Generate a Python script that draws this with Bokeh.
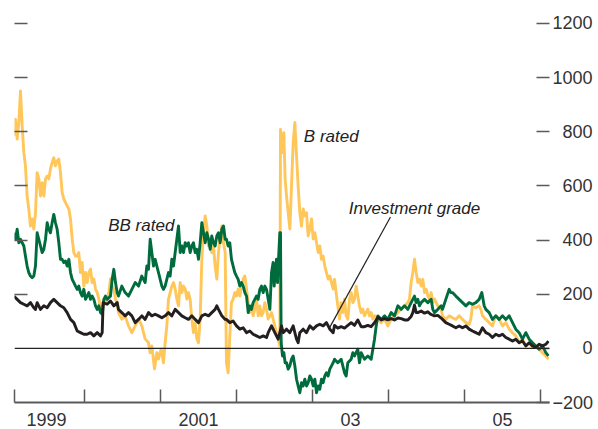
from bokeh.plotting import figure
from bokeh.models import LinearAxis, FixedTicker, Span, Label, Range1d
from bokeh.embed import file_html
from bokeh.resources import INLINE

FONT = "Liberation Sans"

# ---- data: (decimal year, basis points) ----
b_rated = [
    (1999.070, 785), (1999.092, 846), (1999.114, 773), (1999.136, 834), (1999.158, 951), (1999.180, 821),
    (1999.202, 723), (1999.223, 674), (1999.245, 563), (1999.267, 515), (1999.289, 452), (1999.311, 478),
    (1999.333, 441), (1999.355, 500), (1999.377, 649), (1999.399, 626), (1999.421, 563), (1999.443, 612),
    (1999.465, 563), (1999.487, 626), (1999.509, 637), (1999.530, 626), (1999.552, 663), (1999.574, 686),
    (1999.596, 704), (1999.618, 674), (1999.640, 692), (1999.662, 699), (1999.684, 649), (1999.706, 575),
    (1999.728, 552), (1999.750, 538), (1999.772, 526), (1999.794, 515), (1999.816, 478), (1999.838, 404),
    (1999.860, 354), (1999.882, 341), (1999.904, 341), (1999.925, 354), (1999.947, 280), (1999.969, 317),
    (1999.991, 230), (2000.013, 280), (2000.035, 243), (2000.057, 280), (2000.079, 293), (2000.101, 243),
    (2000.123, 256), (2000.145, 219), (2000.167, 206), (2000.189, 182), (2000.211, 145), (2000.233, 132),
    (2000.255, 182), (2000.276, 169), (2000.298, 182), (2000.320, 206), (2000.342, 256), (2000.364, 230),
    (2000.386, 219), (2000.408, 182), (2000.430, 169),
    (2000.447, 132), (2000.491, 108), (2000.535, 120), (2000.579, 83), (2000.623, 58), (2000.667, 83),
    (2000.711, 108), (2000.754, 83), (2000.798, 35), (2000.842, 21), (2000.864, -16), (2000.886, 9),
    (2000.921, -76), (2000.952, -16), (2000.974, -39), (2001.009, -2), (2001.039, -53), (2001.061, 21),
    (2001.083, 83), (2001.105, 182), (2001.127, 206), (2001.149, 230), (2001.171, 243), (2001.193, 219),
    (2001.215, 182), (2001.237, 157), (2001.259, 243), (2001.281, 206), (2001.303, 230), (2001.325, 219),
    (2001.347, 182), (2001.368, 206), (2001.390, 182), (2001.412, 108), (2001.434, 58), (2001.456, 95),
    (2001.478, 35), (2001.500, 21), (2001.522, 108), (2001.544, 329), (2001.566, 427), (2001.588, 489),
    (2001.610, 452), (2001.632, 378), (2001.654, 404), (2001.675, 354), (2001.697, 378), (2001.719, 304),
    (2001.741, 256), (2001.763, 354), (2001.785, 415), (2001.807, 452), (2001.829, 390), (2001.851, 354),
    (2001.868, -53), (2001.890, -90), (2001.912, 46), (2001.934, 169), (2001.956, 182), (2001.978, 206),
    (2002.000, 193), (2002.022, 219), (2002.044, 193), (2002.066, 230), (2002.088, 256), (2002.110, 267),
    (2002.132, 219), (2002.154, 169), (2002.175, 132), (2002.197, 157), (2002.219, 120), (2002.241, 145),
    (2002.263, 182), (2002.285, 120), (2002.307, 157), (2002.329, 120), (2002.351, 132), (2002.373, 169),
    (2002.395, 145), (2002.417, 108), (2002.439, 120), (2002.461, 132), (2002.482, 108), (2002.504, 83),
    (2002.526, 58), (2002.548, 35), (2002.570, 9), (2002.579, 809), (2002.601, 723), (2002.623, 797),
    (2002.640, 626), (2002.658, 563), (2002.680, 501), (2002.702, 441), (2002.724, 600), (2002.746, 760),
    (2002.768, 834), (2002.790, 711), (2002.811, 600), (2002.833, 501), (2002.855, 452), (2002.877, 515),
    (2002.899, 489), (2002.921, 501), (2002.943, 415), (2002.965, 441), (2002.987, 478), (2003.009, 404),
    (2003.031, 427), (2003.053, 390), (2003.075, 354), (2003.096, 378), (2003.118, 329), (2003.140, 341),
    (2003.162, 304), (2003.184, 280), (2003.206, 256), (2003.228, 267), (2003.250, 243), (2003.272, 219),
    (2003.290, 255), (2003.311, 206), (2003.333, 157), (2003.355, 108), (2003.377, 169), (2003.399, 132),
    (2003.421, 182), (2003.443, 120), (2003.465, 108), (2003.487, 182), (2003.509, 206), (2003.531, 169),
    (2003.553, 182), (2003.575, 230), (2003.596, 193), (2003.618, 157), (2003.640, 132), (2003.662, 145),
    (2003.684, 120), (2003.706, 132), (2003.728, 145), (2003.750, 120), (2003.772, 132), (2003.794, 108),
    (2003.816, 120), (2003.860, 108), (2003.904, 95), (2003.947, 108), (2003.991, 83), (2004.035, 108),
    (2004.079, 120), (2004.123, 132), (2004.167, 145), (2004.211, 157), (2004.254, 169), (2004.276, 182),
    (2004.298, 243), (2004.320, 280), (2004.342, 329), (2004.364, 280), (2004.386, 243), (2004.408, 255),
    (2004.430, 230), (2004.452, 255), (2004.474, 206), (2004.496, 218), (2004.518, 193), (2004.539, 182),
    (2004.561, 206), (2004.583, 169), (2004.605, 182), (2004.649, 157), (2004.693, 145),
    (2004.711, 120), (2004.754, 107), (2004.798, 120), (2004.842, 113), (2004.886, 107), (2004.930, 120),
    (2004.974, 107), (2005.018, 95), (2005.061, 89), (2005.083, 107), (2005.105, 157), (2005.149, 150),
    (2005.193, 157), (2005.215, 144), (2005.237, 120), (2005.281, 107), (2005.325, 95), (2005.368, 83),
    (2005.412, 120), (2005.456, 107), (2005.500, 83), (2005.544, 95), (2005.588, 71), (2005.632, 58),
    (2005.675, 46), (2005.719, 21), (2005.763, 34), (2005.807, 9), (2005.851, 21), (2005.895, 3),
    (2005.939, 9), (2005.982, -3), (2006.026, -16), (2006.070, -28), (2006.105, -40),
]

bb_rated = [
    (1999.070, 427), (1999.092, 403), (1999.114, 440), (1999.136, 390), (1999.158, 403), (1999.180, 390),
    (1999.202, 378), (1999.223, 341), (1999.245, 304), (1999.267, 280), (1999.289, 267), (1999.311, 261),
    (1999.333, 267), (1999.355, 304), (1999.377, 427), (1999.399, 403), (1999.421, 378), (1999.443, 354),
    (1999.465, 366), (1999.487, 403), (1999.509, 464), (1999.530, 440), (1999.552, 427), (1999.574, 464),
    (1999.596, 495), (1999.618, 464), (1999.640, 440), (1999.662, 390), (1999.684, 329), (1999.706, 329),
    (1999.728, 317), (1999.750, 323), (1999.772, 304), (1999.794, 329), (1999.816, 280), (1999.838, 255),
    (1999.860, 243), (1999.882, 230), (1999.904, 218), (1999.925, 230), (1999.947, 206), (1999.969, 193),
    (1999.991, 218), (2000.013, 181), (2000.035, 193), (2000.057, 206), (2000.079, 181), (2000.101, 193),
    (2000.123, 181), (2000.145, 157), (2000.167, 144), (2000.189, 157), (2000.211, 132), (2000.233, 126),
    (2000.255, 181), (2000.276, 193), (2000.298, 181), (2000.342, 193), (2000.364, 255), (2000.386, 292),
    (2000.408, 243), (2000.430, 206),
    (2000.447, 193), (2000.491, 230), (2000.535, 206), (2000.579, 193), (2000.623, 218), (2000.667, 243),
    (2000.711, 230), (2000.754, 267), (2000.798, 243), (2000.820, 304), (2000.842, 292), (2000.864, 403),
    (2000.886, 354), (2000.908, 304), (2000.930, 329), (2000.952, 304), (2000.974, 280), (2000.996, 255),
    (2001.018, 230), (2001.039, 218), (2001.061, 230), (2001.083, 255), (2001.105, 280), (2001.127, 267),
    (2001.149, 329), (2001.171, 304), (2001.193, 354), (2001.215, 403), (2001.237, 452), (2001.259, 354),
    (2001.281, 378), (2001.303, 354), (2001.325, 390), (2001.347, 378), (2001.368, 390), (2001.390, 354),
    (2001.412, 378), (2001.434, 390), (2001.456, 354), (2001.478, 366), (2001.500, 329), (2001.522, 390),
    (2001.544, 464), (2001.566, 427), (2001.588, 390), (2001.610, 427), (2001.632, 403), (2001.654, 366),
    (2001.675, 415), (2001.697, 390), (2001.719, 378), (2001.741, 415), (2001.763, 427), (2001.785, 390),
    (2001.807, 440), (2001.829, 452), (2001.851, 403),
    (2001.868, 403), (2001.890, 378), (2001.912, 390), (2001.934, 329), (2001.956, 304), (2001.978, 280),
    (2002.000, 267), (2002.022, 255), (2002.044, 230), (2002.066, 243), (2002.088, 230), (2002.110, 206),
    (2002.132, 193), (2002.154, 132), (2002.175, 157), (2002.197, 144), (2002.219, 169), (2002.241, 181),
    (2002.263, 193), (2002.285, 181), (2002.307, 218), (2002.329, 230), (2002.351, 206), (2002.373, 230),
    (2002.395, 218), (2002.417, 181), (2002.439, 144), (2002.461, 280), (2002.482, 317), (2002.496, 230),
    (2002.509, 280), (2002.526, 329), (2002.540, 243), (2002.553, 329), (2002.570, 427), (2002.579, 427),
    (2002.588, 21), (2002.605, -28), (2002.623, -16), (2002.640, -53), (2002.658, -53), (2002.680, -77),
    (2002.702, -65), (2002.724, -40), (2002.746, -28), (2002.768, -65), (2002.790, -114), (2002.811, -139),
    (2002.833, -164), (2002.855, -127), (2002.877, -139), (2002.899, -114), (2002.921, -139), (2002.943, -127),
    (2002.965, -102), (2002.987, -114), (2003.009, -139), (2003.031, -114), (2003.053, -164), (2003.075, -139),
    (2003.096, -151), (2003.118, -114), (2003.140, -127), (2003.162, -102), (2003.184, -90), (2003.206, -102),
    (2003.228, -77), (2003.250, -65), (2003.272, -53),
    (2003.290, -40), (2003.333, -53), (2003.377, -40), (2003.421, -90), (2003.443, -102), (2003.465, -53),
    (2003.509, -40), (2003.531, -16), (2003.553, -28), (2003.596, -3), (2003.618, -53), (2003.640, -16),
    (2003.684, -40), (2003.728, -28), (2003.772, -40), (2003.794, -3), (2003.816, 34), (2003.838, 83),
    (2003.860, 120), (2003.904, 107), (2003.947, 120), (2003.991, 107), (2004.035, 132), (2004.079, 120),
    (2004.123, 157), (2004.167, 144), (2004.211, 157), (2004.254, 144), (2004.298, 169), (2004.342, 193),
    (2004.364, 169), (2004.386, 181), (2004.408, 157), (2004.430, 169), (2004.474, 181), (2004.518, 169),
    (2004.561, 181), (2004.583, 144), (2004.605, 132), (2004.649, 144), (2004.693, 157),
    (2004.711, 144), (2004.754, 181), (2004.798, 218), (2004.820, 206), (2004.842, 206), (2004.886, 193),
    (2004.930, 181), (2004.974, 169), (2005.018, 157), (2005.061, 169), (2005.105, 163), (2005.149, 169),
    (2005.193, 181), (2005.228, 206), (2005.259, 157), (2005.281, 144), (2005.325, 132), (2005.368, 107),
    (2005.412, 120), (2005.456, 107), (2005.500, 120), (2005.544, 107), (2005.588, 120), (2005.632, 95),
    (2005.675, 71), (2005.719, 58), (2005.763, 34), (2005.807, 58), (2005.851, 34), (2005.895, 21),
    (2005.939, 9), (2005.982, -3), (2006.026, 9), (2006.070, -16), (2006.105, -28),
]

investment_grade = [
    (1999.070, 193), (1999.114, 181), (1999.158, 169), (1999.202, 163), (1999.245, 157), (1999.289, 169),
    (1999.333, 150), (1999.355, 144), (1999.377, 169), (1999.421, 144), (1999.465, 157), (1999.509, 150),
    (1999.552, 169), (1999.596, 181), (1999.640, 169), (1999.684, 157), (1999.728, 150), (1999.772, 132),
    (1999.816, 107), (1999.860, 95), (1999.904, 64), (1999.947, 58), (1999.991, 52), (2000.035, 52),
    (2000.079, 58), (2000.123, 46), (2000.167, 58), (2000.211, 46), (2000.233, 58), (2000.245, 169),
    (2000.298, 163), (2000.342, 175), (2000.386, 157), (2000.430, 169),
    (2000.447, 144), (2000.491, 132), (2000.535, 120), (2000.579, 132), (2000.623, 120), (2000.667, 95),
    (2000.711, 107), (2000.754, 120), (2000.798, 107), (2000.842, 132), (2000.886, 120), (2000.930, 126),
    (2000.974, 120), (2001.018, 113), (2001.061, 120), (2001.105, 132), (2001.149, 120), (2001.193, 144),
    (2001.237, 132), (2001.281, 120), (2001.325, 113), (2001.368, 107), (2001.412, 120), (2001.456, 107),
    (2001.500, 95), (2001.544, 120), (2001.588, 126), (2001.632, 120), (2001.675, 132), (2001.719, 144),
    (2001.741, 157), (2001.763, 144), (2001.807, 120), (2001.851, 107),
    (2001.868, 107), (2001.912, 95), (2001.956, 101), (2002.000, 83), (2002.044, 71), (2002.088, 76),
    (2002.132, 58), (2002.175, 64), (2002.219, 52), (2002.263, 46), (2002.307, 40), (2002.351, 46),
    (2002.395, 40), (2002.417, 58), (2002.439, 71), (2002.461, 83), (2002.482, 71), (2002.526, 46),
    (2002.548, 34), (2002.570, 58), (2002.592, 83), (2002.614, 58), (2002.658, 71), (2002.702, 58),
    (2002.746, 83), (2002.768, 58), (2002.790, 34), (2002.811, 21), (2002.833, 58), (2002.877, 71),
    (2002.921, 58), (2002.965, 83), (2003.009, 71), (2003.053, 83), (2003.096, 89), (2003.140, 83),
    (2003.184, 95), (2003.228, 71), (2003.272, 58),
    (2003.290, 85), (2003.333, 75), (2003.377, 80), (2003.421, 75), (2003.465, 85), (2003.509, 95),
    (2003.553, 85), (2003.596, 105), (2003.640, 80), (2003.684, 80), (2003.728, 85), (2003.772, 80),
    (2003.816, 95), (2003.860, 115), (2003.904, 105), (2003.947, 110), (2003.991, 105), (2004.035, 110),
    (2004.079, 105), (2004.123, 112), (2004.167, 110), (2004.211, 105), (2004.254, 105), (2004.298, 118),
    (2004.320, 132), (2004.342, 160), (2004.364, 132), (2004.386, 132), (2004.430, 138), (2004.474, 130),
    (2004.518, 135), (2004.561, 125), (2004.605, 120), (2004.649, 122), (2004.693, 112),
    (2004.711, 107), (2004.754, 95), (2004.798, 89), (2004.842, 83), (2004.886, 76), (2004.930, 83),
    (2004.974, 76), (2005.018, 83), (2005.061, 71), (2005.105, 64), (2005.149, 58), (2005.193, 52),
    (2005.237, 76), (2005.281, 58), (2005.325, 52), (2005.368, 40), (2005.412, 52), (2005.456, 46),
    (2005.500, 52), (2005.544, 40), (2005.588, 34), (2005.632, 27), (2005.675, 34), (2005.719, 21),
    (2005.763, 27), (2005.807, 9), (2005.851, 21), (2005.895, 9), (2005.939, 3), (2005.982, 15),
    (2006.026, 9), (2006.070, 15), (2006.105, 27),
]

# ---- axes: ticks and labels ----
y_ticks = [-200, 0, 200, 400, 600, 800, 1000, 1200]
y_tick_labels = ["\u2212200", "\u00a0\u00a0\u00a0\u00a0\u00a0\u00a00", "\u00a0\u00a0200", "\u00a0\u00a0400",
                 "\u00a0\u00a0600", "\u00a0\u00a0800", "1000", "1200"]
left_ticks = [200, 400, 600, 800, 1000, 1200]
year_mids = [1999.5, 2000.5, 2001.5, 2002.5, 2003.5, 2004.5, 2005.5]
year_labels = ["1999", "", "2001", "", "03", "", "05"]
year_bounds = [1999.08, 2000, 2001, 2002, 2003, 2004, 2005, 2006]

# annotations (text, x, y)
annotations = [("B rated", 2002.886, 781), ("BB rated", 2000.312, 455), ("Investment grade", 2003.478, 518)]
leader = dict(x0=[2004.026], y0=[485], x1=[2003.214], y1=[71])

C_B = "#FFC65A"
C_BB = "#006B3D"
C_IG = "#231F20"
C_AX = "#5a5a5a"
C_TXT = "#333333"

p = figure(frame_width=535, frame_height=392,
           x_range=Range1d(1999.079, 2006.1185), y_range=Range1d(-200, 1248),
           output_backend="svg", toolbar_location=None,
           x_axis_location=None, y_axis_location=None,
           min_border_left=14, min_border_right=0, min_border_top=10, min_border_bottom=0)
p.grid.grid_line_color = None
p.outline_line_color = None
p.background_fill_color = "white"
p.border_fill_color = "white"

xaxis = LinearAxis(ticker=FixedTicker(ticks=year_mids, minor_ticks=year_bounds),
                   major_label_overrides={k: v for k, v in zip(year_mids, year_labels)},
                   major_tick_in=0, major_tick_out=0,
                   minor_tick_in=13, minor_tick_out=0,
                   minor_tick_line_color=C_AX, minor_tick_line_width=1.5,
                   axis_line_color=C_AX, axis_line_width=2,
                   major_label_standoff=10,
                   major_label_text_font=FONT, major_label_text_font_size="18px",
                   major_label_text_color=C_TXT)
p.add_layout(xaxis, "below")

laxis = LinearAxis(ticker=FixedTicker(ticks=left_ticks),
                   major_label_overrides={k: "" for k in left_ticks},
                   major_tick_in=13, major_tick_out=0,
                   major_tick_line_color=C_AX, major_tick_line_width=1.5,
                   axis_line_color=None, major_label_standoff=0,
                   major_label_text_font_size="0px")
p.add_layout(laxis, "left")

raxis = LinearAxis(ticker=FixedTicker(ticks=y_ticks),
                   major_label_overrides={k: v for k, v in zip(y_ticks, y_tick_labels)},
                   major_tick_in=13, major_tick_out=0,
                   major_tick_line_color=C_AX, major_tick_line_width=1.5,
                   axis_line_color=None, major_label_standoff=3,
                   major_label_text_font=FONT, major_label_text_font_size="18px",
                   major_label_text_color=C_TXT)
p.add_layout(raxis, "right")

p.add_layout(Span(location=0, dimension="width", line_color="#222222", line_width=1.3))

for series, color in ((b_rated, C_B), (bb_rated, C_BB), (investment_grade, C_IG)):
    xs = [t for t, _ in series]
    ys = [v for _, v in series]
    p.line(xs, ys, line_color=color, line_width=2.9, line_join="round")

p.segment(line_color="#222222", line_width=1.2, **leader)

for text, x, y in annotations:
    p.add_layout(Label(x=x, y=y, text=text, text_font=FONT, text_font_style="italic",
                       text_font_size="17px", text_color="#222222",
                       text_align="left", text_baseline="alphabetic"))

open("out.html", "w").write(file_html(p, INLINE))
